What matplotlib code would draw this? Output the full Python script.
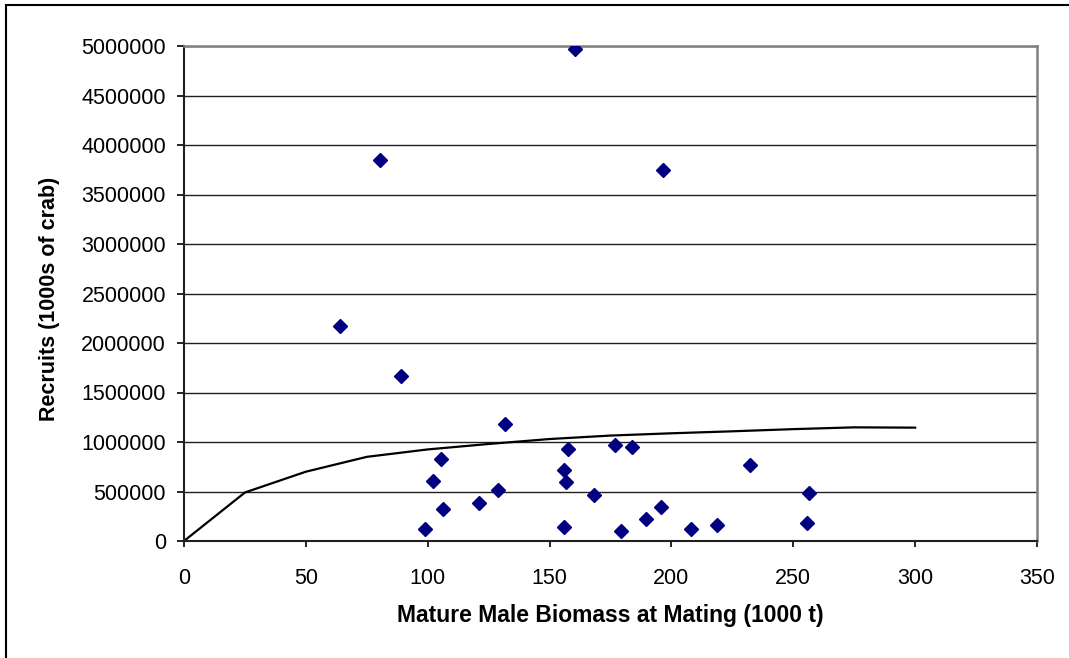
import matplotlib
matplotlib.use("Agg")
import matplotlib.pyplot as plt
from matplotlib.lines import Line2D

# Observed stock-recruit points
biomass = [160.4, 80.4, 196.6, 64.0, 89.0, 131.7, 105.5, 102.2, 106.3, 98.9,
           121.0, 128.8, 155.9, 156.7, 157.5, 155.9, 176.9, 183.8, 168.2, 179.3,
           189.7, 195.9, 208.0, 218.5, 232.2, 256.6, 255.6]
recruits = [4970000, 3850000, 3750000, 2170000, 1670000, 1180000, 830000, 610000, 320000, 120000,
            380000, 520000, 720000, 600000, 930000, 140000, 970000, 950000, 460000, 100000,
            220000, 340000, 120000, 160000, 765000, 480000, 180000]

# Fitted curve
curve_x = [0, 25, 50, 75, 100, 125, 150, 175, 200, 225, 250, 275, 300]
curve_y = [0, 490000, 700000, 850000, 925000, 980000, 1030000, 1065000, 1088000, 1108000, 1130000, 1148000, 1145000]

x_ticks = [0, 50, 100, 150, 200, 250, 300, 350]
y_ticks = [0, 500000, 1000000, 1500000, 2000000, 2500000, 3000000, 3500000, 4000000, 4500000, 5000000]

plt.rcParams['font.family'] = ['Liberation Sans', 'DejaVu Sans']

fig = plt.figure(figsize=(10.69, 6.58), dpi=100)
ax = fig.add_axes([184/1069, 1-541/658, (1037-184)/1069, (541-46)/658])

for yt in y_ticks[1:]:
    ax.axhline(yt, color='#202020', lw=1.0, zorder=1)

ax.plot(curve_x, curve_y, color='black', lw=1.6, zorder=2)
ax.plot(biomass, recruits, linestyle='none', marker='D', markersize=7.5,
        color='#000080', markeredgecolor='#000080', zorder=3)

ax.set_xlim(0, 350)
ax.set_ylim(0, 5000000)
ax.set_xticks(x_ticks)
ax.set_yticks(y_ticks)
ax.set_xticklabels([str(v) for v in x_ticks])
ax.set_yticklabels([str(v) for v in y_ticks])
ax.tick_params(axis='y', direction='out', length=5, width=1.2, pad=8, labelsize=15.5, colors='black')
ax.tick_params(axis='x', direction='out', length=4.5, width=1.2, pad=15, labelsize=15.5, colors='black')

for s in ['left', 'bottom']:
    ax.spines[s].set_color('#202020')
    ax.spines[s].set_linewidth(1.5)
for s in ['top', 'right']:
    ax.spines[s].set_color('#808080')
    ax.spines[s].set_linewidth(1.8)

ax.set_xlabel('Mature Male Biomass at Mating (1000 t)', fontsize=16.5, fontweight='bold')
ax.set_ylabel('Recruits (1000s of crab)', fontsize=15.5, fontweight='bold')
ax.xaxis.set_label_coords((610-184)/(1037-184), -(604-541)/(541-46))
ax.yaxis.set_label_coords(-(184-60)/(1037-184), 0.49)

# outer chart border (top and left visible)
fig.add_artist(Line2D([6/1069, 6/1069], [0, 1-5/658], color='black', lw=1.5, transform=fig.transFigure))
fig.add_artist(Line2D([6/1069, 1], [1-5/658, 1-5/658], color='black', lw=1.5, transform=fig.transFigure))

fig.savefig('out.png', dpi=100)
